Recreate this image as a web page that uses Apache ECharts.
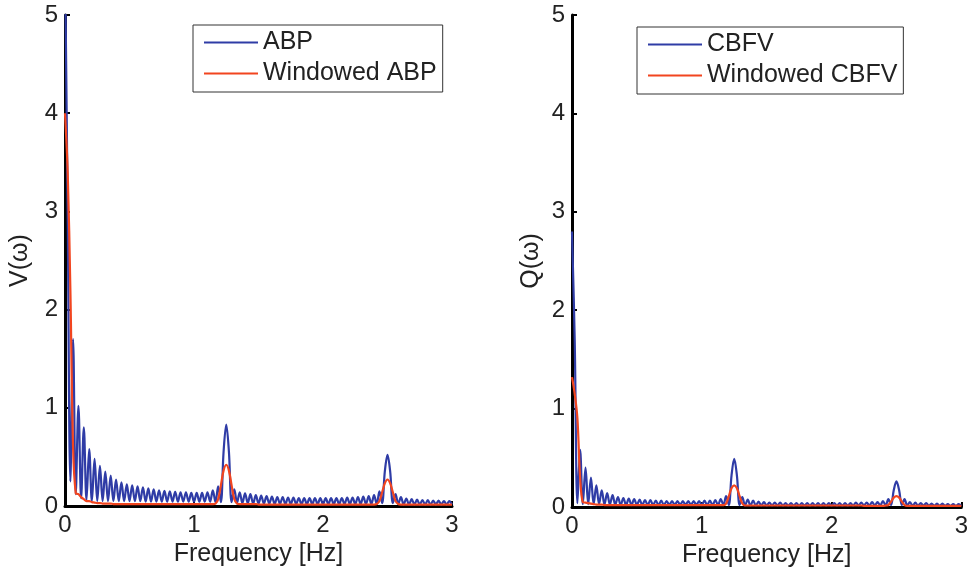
<!DOCTYPE html>
<html>
<head>
<meta charset="utf-8">
<script src="https://cdn.jsdelivr.net/npm/echarts@6/dist/echarts.min.js"></script>
<style>
html,body{margin:0;padding:0;background:#fff;}
#c{width:971px;height:575px;}
</style>
</head>
<body>
<div id="c"></div>
<script>
// Spectrum samples on a uniform frequency grid (bin spacing 1/48 Hz), 0 .. 3 Hz
const FREQ_STEP = 1 / 48;
const xTicks = [0, 1, 2, 3];
const yTicks = [0, 1, 2, 3, 4, 5];

const abpRaw = [
  5.6, 3.0, 0.25, 1.70, 0.12, 1.02, 0.08, 0.80, 0.06, 0.58, 0.05, 0.48,
  0.05, 0.41, 0.05, 0.35, 0.05, 0.31, 0.05, 0.27, 0.05, 0.24, 0.05, 0.22,
  0.05, 0.21, 0.05, 0.20, 0.05, 0.19, 0.045, 0.18, 0.045, 0.17, 0.045, 0.16,
  0.045, 0.155, 0.045, 0.15, 0.045, 0.145, 0.045, 0.14, 0.045, 0.14, 0.045, 0.135,
  0.045, 0.135, 0.045, 0.135, 0.045, 0.14, 0.045, 0.16, 0.04, 0.20, 0.04, 0.55,
  0.83, 0.55, 0.04, 0.17, 0.03, 0.14, 0.03, 0.13, 0.03, 0.12, 0.025, 0.11,
  0.025, 0.105, 0.025, 0.10, 0.025, 0.095, 0.02, 0.09, 0.02, 0.09, 0.02, 0.085,
  0.02, 0.085, 0.02, 0.08, 0.02, 0.08, 0.02, 0.08, 0.02, 0.08, 0.02, 0.08,
  0.02, 0.08, 0.02, 0.08, 0.02, 0.08, 0.02, 0.08, 0.02, 0.085, 0.02, 0.085,
  0.02, 0.09, 0.02, 0.095, 0.02, 0.10, 0.02, 0.11, 0.02, 0.15, 0.03, 0.35,
  0.52, 0.35, 0.03, 0.12, 0.02, 0.09, 0.015, 0.075, 0.015, 0.07, 0.015, 0.065,
  0.015, 0.06, 0.015, 0.06, 0.015, 0.055, 0.015, 0.055, 0.015, 0.05, 0.015, 0.05,
  0.015
];

const abpWin = [
  4.0, 3.4, 2.2, 0.60, 0.13, 0.12, 0.09, 0.07, 0.05, 0.05, 0.04, 0.035,
  0.03, 0.03, 0.025, 0.025, 0.025, 0.025, 0.02, 0.02, 0.02, 0.02, 0.02, 0.02,
  0.02, 0.02, 0.02, 0.02, 0.02, 0.02, 0.02, 0.02, 0.02, 0.02, 0.02, 0.02,
  0.02, 0.02, 0.02, 0.02, 0.02, 0.02, 0.02, 0.02, 0.02, 0.02, 0.02, 0.02,
  0.02, 0.02, 0.02, 0.02, 0.02, 0.02, 0.02, 0.02, 0.025, 0.07, 0.21, 0.36,
  0.42, 0.36, 0.21, 0.07, 0.025, 0.02, 0.02, 0.02, 0.02, 0.02, 0.02, 0.02,
  0.015, 0.015, 0.015, 0.015, 0.015, 0.015, 0.015, 0.015, 0.015, 0.015, 0.015, 0.015,
  0.015, 0.015, 0.015, 0.015, 0.015, 0.015, 0.015, 0.015, 0.015, 0.015, 0.015, 0.015,
  0.015, 0.015, 0.015, 0.015, 0.015, 0.015, 0.015, 0.015, 0.015, 0.015, 0.015, 0.015,
  0.015, 0.015, 0.015, 0.015, 0.015, 0.015, 0.015, 0.015, 0.02, 0.05, 0.14, 0.23,
  0.27, 0.23, 0.14, 0.05, 0.02, 0.015, 0.015, 0.015, 0.015, 0.015, 0.015, 0.015,
  0.015, 0.015, 0.015, 0.015, 0.015, 0.015, 0.015, 0.015, 0.015, 0.015, 0.015, 0.015,
  0.015
];

const cbfvRaw = [
  2.8, 1.7, 0.04, 0.58, 0.03, 0.40, 0.03, 0.30, 0.03, 0.22, 0.03, 0.17,
  0.025, 0.14, 0.025, 0.12, 0.025, 0.10, 0.02, 0.09, 0.02, 0.085, 0.02, 0.08,
  0.02, 0.075, 0.02, 0.07, 0.02, 0.07, 0.02, 0.065, 0.02, 0.065, 0.02, 0.06,
  0.02, 0.06, 0.02, 0.06, 0.02, 0.06, 0.02, 0.06, 0.02, 0.06, 0.02, 0.06,
  0.02, 0.065, 0.02, 0.065, 0.02, 0.07, 0.02, 0.08, 0.02, 0.11, 0.02, 0.32,
  0.49, 0.32, 0.02, 0.10, 0.015, 0.075, 0.015, 0.065, 0.015, 0.055, 0.015, 0.05,
  0.015, 0.045, 0.015, 0.045, 0.015, 0.045, 0.015, 0.04, 0.015, 0.04, 0.015, 0.04,
  0.015, 0.04, 0.015, 0.04, 0.015, 0.04, 0.015, 0.04, 0.015, 0.04, 0.015, 0.04,
  0.015, 0.04, 0.015, 0.04, 0.015, 0.04, 0.015, 0.04, 0.015, 0.045, 0.015, 0.045,
  0.015, 0.045, 0.015, 0.05, 0.015, 0.05, 0.015, 0.06, 0.015, 0.08, 0.02, 0.17,
  0.26, 0.17, 0.02, 0.08, 0.015, 0.05, 0.012, 0.045, 0.012, 0.04, 0.012, 0.04,
  0.012, 0.035, 0.012, 0.035, 0.012, 0.035, 0.012, 0.03, 0.012, 0.03, 0.012, 0.03,
  0.012
];

const cbfvWin = [
  1.32, 1.15, 0.90, 0.30, 0.05, 0.045, 0.04, 0.035, 0.03, 0.025, 0.025, 0.025,
  0.02, 0.02, 0.02, 0.02, 0.02, 0.02, 0.02, 0.02, 0.02, 0.02, 0.02, 0.02,
  0.02, 0.02, 0.02, 0.02, 0.02, 0.02, 0.02, 0.02, 0.02, 0.02, 0.02, 0.02,
  0.02, 0.02, 0.02, 0.02, 0.02, 0.02, 0.02, 0.02, 0.02, 0.02, 0.02, 0.02,
  0.02, 0.02, 0.02, 0.02, 0.02, 0.02, 0.02, 0.02, 0.02, 0.035, 0.11, 0.19,
  0.22, 0.19, 0.11, 0.035, 0.015, 0.015, 0.015, 0.015, 0.015, 0.015, 0.015, 0.015,
  0.015, 0.015, 0.015, 0.015, 0.015, 0.015, 0.015, 0.015, 0.015, 0.015, 0.015, 0.015,
  0.015, 0.015, 0.015, 0.015, 0.015, 0.015, 0.015, 0.015, 0.015, 0.015, 0.015, 0.015,
  0.015, 0.015, 0.015, 0.015, 0.015, 0.015, 0.015, 0.015, 0.015, 0.015, 0.015, 0.015,
  0.012, 0.012, 0.012, 0.012, 0.012, 0.012, 0.012, 0.012, 0.015, 0.02, 0.055, 0.095,
  0.11, 0.095, 0.055, 0.02, 0.012, 0.012, 0.012, 0.012, 0.012, 0.012, 0.012, 0.012,
  0.012, 0.012, 0.012, 0.012, 0.012, 0.012, 0.012, 0.012, 0.012, 0.012, 0.012, 0.012,
  0.012
];

const names = {
  abp: 'ABP', abpW: 'Windowed ABP',
  cbfv: 'CBFV', cbfvW: 'Windowed CBFV'
};

const BLUE = '#2f3ca6';
const RED = '#f2451f';
const FONT = 'Liberation Sans, Arial, Helvetica, sans-serif';

function toPairs(arr) { return arr.map((v, i) => [i * FREQ_STEP, v]); }

function xAxisCfg(idx) {
  return {
    type: 'value', gridIndex: idx,
    min: xTicks[0], max: xTicks[xTicks.length - 1], interval: 1,
    name: 'Frequency [Hz]', nameLocation: 'middle', nameGap: 29,
    nameTextStyle: { fontSize: 25, color: '#222', fontFamily: FONT },
    axisLine: { show: true, onZero: false, lineStyle: { color: '#000', width: 3 } },
    axisTick: { show: true, inside: true, length: 5, lineStyle: { color: '#000', width: 2 } },
    axisLabel: { fontSize: 24, color: '#222', fontFamily: FONT, margin: 7 },
    splitLine: { show: false }
  };
}
function yAxisCfg(idx, name, gap) {
  return {
    type: 'value', gridIndex: idx,
    min: yTicks[0], max: yTicks[yTicks.length - 1], interval: 1,
    name: name, nameLocation: 'middle', nameGap: gap, nameRotate: 90,
    nameTextStyle: { fontSize: 25, color: '#222', fontFamily: FONT },
    axisLine: { show: true, onZero: false, lineStyle: { color: '#000', width: 3 } },
    axisTick: { show: true, inside: true, length: 5, lineStyle: { color: '#000', width: 2 } },
    axisLabel: { fontSize: 24, color: '#222', fontFamily: FONT, margin: 7 },
    splitLine: { show: false }
  };
}
function lineSeries(name, data, color, axis) {
  return {
    name: name, type: 'line', xAxisIndex: axis, yAxisIndex: axis,
    data: toPairs(data), symbol: 'none', smooth: 0.35,
    lineStyle: { color: color, width: 2.2 }, itemStyle: { color: color },
    clip: true, animation: false
  };
}
function legendCfg(left, top, data) {
  return {
    left: left, top: top, orient: 'vertical', data: data,
    icon: 'rect',
    backgroundColor: '#fff', borderColor: '#333', borderWidth: 1,
    padding: [5, 6, 6, 11], itemGap: 6, itemWidth: 54, itemHeight: 2,
    textStyle: { fontSize: 25, color: '#222', fontFamily: FONT, lineHeight: 25 },
    selectedMode: false
  };
}

const chart = echarts.init(document.getElementById('c'), null, { renderer: 'canvas' });
chart.setOption({
  animation: false,
  backgroundColor: '#fff',
  grid: [
    { left: 65, right: 519, top: 15, bottom: 69 },
    { left: 572, right: 9, top: 15, bottom: 68 }
  ],
  xAxis: [xAxisCfg(0), xAxisCfg(1)],
  yAxis: [yAxisCfg(0, 'V(ω)', 32), yAxisCfg(1, 'Q(ω)', 28)],
  legend: [
    legendCfg(193, 25, [names.abp, names.abpW]),
    legendCfg(637, 27, [names.cbfv, names.cbfvW])
  ],
  series: [
    lineSeries(names.abp, abpRaw, BLUE, 0),
    lineSeries(names.abpW, abpWin, RED, 0),
    lineSeries(names.cbfv, cbfvRaw, BLUE, 1),
    lineSeries(names.cbfvW, cbfvWin, RED, 1)
  ]
});
</script>
</body>
</html>
